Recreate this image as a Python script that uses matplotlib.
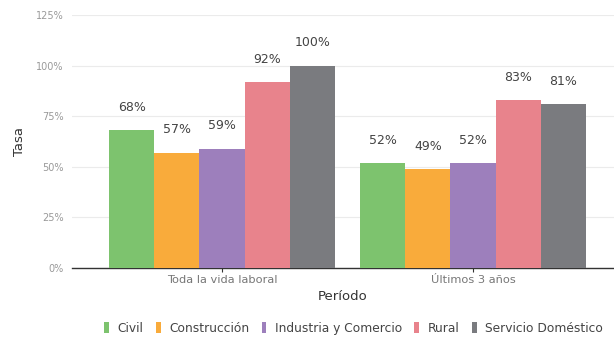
import matplotlib
matplotlib.use('Agg')
import matplotlib.pyplot as plt
import numpy as np
from matplotlib.ticker import FuncFormatter
from matplotlib.patches import Patch

plt.rcParams['font.family'] = ['DejaVu Sans']

# datos
periodos = ['Toda la vida laboral', 'Últimos 3 años']
sectores = ['Civil', 'Construcción', 'Industria y Comercio', 'Rural', 'Servicio Doméstico']
colores = ['#7dc36e', '#f9ab3b', '#9d7fbc', '#e8838c', '#7a7b7f']
civil = [68, 52]
construccion = [57, 49]
industria = [59, 52]
rural = [92, 83]
domestico = [100, 81]
series = [civil, construccion, industria, rural, domestico]

fig = plt.figure(figsize=(6.14, 3.42), dpi=100)
ax = fig.add_axes([0.1173, 0.2164, 0.8827, 0.7398])

x = np.arange(len(periodos))
ancho = 0.18
for i, (vals, col, nombre) in enumerate(zip(series, colores, sectores)):
    pos = x + (i - 2) * ancho
    ax.bar(pos, vals, width=ancho, color=col, label=nombre, zorder=3)
    for px, v in zip(pos, vals):
        ax.text(px, v + 8, f'{v}%', ha='center', va='bottom',
                fontsize=9, color='#444444')

ax.set_ylim(0, 125)
ax.set_xlim(-0.598, 1.562)
ax.set_yticks([0, 25, 50, 75, 100, 125])
ax.yaxis.set_major_formatter(FuncFormatter(lambda v, p: f'{int(v)}%'))
ax.grid(axis='y', color='#ebebeb', linewidth=0.8, zorder=0)
ax.set_xticks(x)
ax.set_xticklabels(periodos)

for s in ['top', 'right', 'left']:
    ax.spines[s].set_visible(False)
ax.spines['bottom'].set_color('#333333')
ax.spines['bottom'].set_linewidth(1.0)
ax.tick_params(axis='y', length=0, labelsize=7, labelcolor='#999999', pad=6)
ax.tick_params(axis='x', length=3, color='#333333', labelsize=8.2,
               labelcolor='#777777', pad=2)

ax.set_ylabel('Tasa', fontsize=9.5, color='#333333', labelpad=7)
ax.set_xlabel('Período', fontsize=9.5, color='#333333', labelpad=4)

handles = [Patch(facecolor=c, label=s) for c, s in zip(colores, sectores)]
fig.legend(handles=handles, loc='center', bbox_to_anchor=(0.576, 0.04),
           ncol=5, frameon=False, fontsize=8.8, handlelength=0.4,
           handleheight=1.0, handletextpad=0.7, columnspacing=1.0,
           labelcolor='#444444')

fig.savefig('out.png', dpi=100)
